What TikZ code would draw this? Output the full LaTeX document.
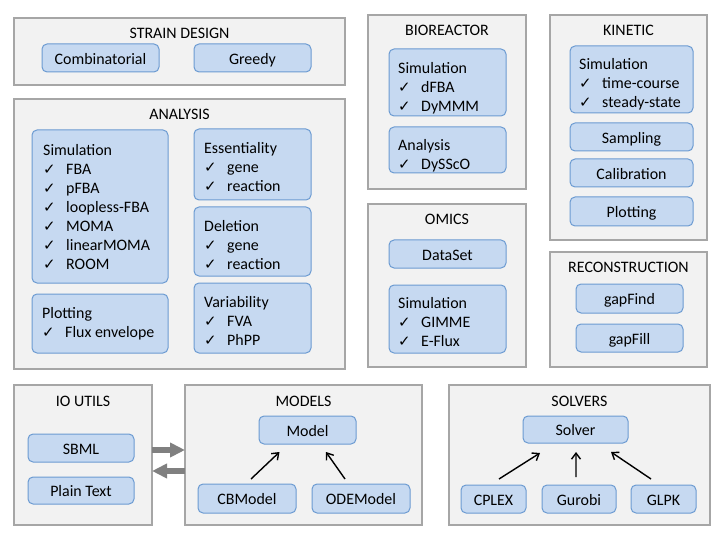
\documentclass[tikz,border=0pt]{standalone}
\usepackage{fontspec}
\setmainfont{Carlito}
\newfontfamily\ckfont{DejaVu Sans}
\usetikzlibrary{arrows.meta,calc}
\definecolor{outfill}{HTML}{F2F2F2}
\definecolor{outdraw}{HTML}{A6A6A6}
\definecolor{infill}{HTML}{C6D9F1}
\definecolor{indraw}{HTML}{6C9BD2}
\definecolor{garrow}{HTML}{808080}
\newcommand{\fs}{\fontsize{16}{19}\selectfont}
\newcommand{\ck}[1]{\makebox[23bp][l]{{\ckfont\fontsize{15}{15}\selectfont ✓}}#1}
\tikzset{
 outbox/.style={draw=outdraw, fill=outfill, line width=1.3bp, inner sep=0pt, outer sep=0pt, anchor=north west},
 inbox/.style={draw=indraw, fill=infill, line width=1bp, rounded corners=5bp, inner sep=0pt, outer sep=0pt, font=\fs, text height=12.5bp, text depth=0bp},
 ttl/.style={font=\fs, anchor=base, inner sep=0pt},
 txt/.style={font=\fs, anchor=base west, inner sep=0pt},
 dep/.style={-{Straight Barb[length=6bp,width=9bp]}, line width=1.4bp, black},
 gar/.style={-{Triangle[length=15bp,width=14bp]}, line width=5.5bp, garrow},
}
\newcommand{\obox}[6]{%
 \node[outbox, minimum width={(#4-#2)*1bp}, minimum height={(#5-#3)*1bp}] (#1) at (#2,#3) {};
 \node[ttl] (#1-t) at ({(#2+#4)/2},{#3+21}) {#6};}
\newcommand{\ibox}[6]{%
 \node[inbox, minimum width={(#4-#2)*1bp}, minimum height={(#5-#3)*1bp}] (#1) at ({(#2+#4)/2},{(#3+#5)/2}) {#6};}
\newcommand{\lst}[4]{%
 \foreach \t [count=\i] in {#4} {\node[txt] (#1-\i) at (#2,{#3+1.5+19*(\i-1)}) {\t};}}
\begin{document}
\begin{tikzpicture}[x=1bp,y=-1bp]
\useasboundingbox (0,0) rectangle (720,540);
% strain design
\obox{sd}{14}{18}{345}{85}{STRAIN DESIGN}
\ibox{comb}{42}{44}{159}{72}{Combinatorial}
\ibox{greedy}{194}{44}{311}{72}{Greedy}
% analysis
\obox{an}{14}{99}{345}{369}{ANALYSIS}
\ibox{ansim}{32}{130}{168}{283}{}
\lst{ansimt}{43}{154}{Simulation,\ck{FBA},\ck{pFBA},\ck{loopless-FBA},\ck{MOMA},\ck{linearMOMA},\ck{ROOM}}
\ibox{ess}{194}{129}{311}{200}{}
\lst{esst}{204}{152}{Essentiality,\ck{gene},\ck{reaction}}
\ibox{del}{194}{207}{311}{276}{}
\lst{delt}{204}{230}{Deletion,\ck{gene},\ck{reaction}}
\ibox{plot}{32}{294}{168}{353}{}
\lst{plott}{42}{317}{Plotting,\ck{Flux envelope}}
\ibox{var}{194}{283}{311}{353}{}
\lst{vart}{204}{306}{Variability,\ck{FVA},\ck{PhPP}}
% bioreactor
\obox{bio}{368}{15}{526}{189}{BIOREACTOR}
\ibox{biosim}{389}{49}{506}{116}{}
\lst{biosimt}{398}{72}{Simulation,\ck{dFBA},\ck{DyMMM}}
\ibox{bioan}{389}{127}{506}{173}{}
\lst{bioant}{398}{149}{Analysis,\ck{DySScO}}
% omics
\obox{om}{368}{204}{526}{367}{OMICS}
\ibox{ds}{389}{240}{506}{268}{DataSet}
\ibox{omsim}{389}{285}{506}{353}{}
\lst{omsimt}{398}{307}{Simulation,\ck{GIMME},\ck{E-Flux}}
% kinetic
\obox{kin}{550}{15}{707}{240}{KINETIC}
\ibox{kinsim}{570}{46}{693}{113}{}
\lst{kinsimt}{579}{68}{Simulation,\ck{time-course},\ck{steady-state}}
\ibox{samp}{570}{123}{693}{151}{Sampling}
\ibox{cal}{570}{159}{693}{187}{Calibration}
\ibox{kplot}{570}{197}{693}{226}{Plotting}
% reconstruction
\obox{rec}{550}{252}{707}{367}{RECONSTRUCTION}
\ibox{gfind}{576}{284}{683}{313}{gapFind}
\ibox{gfill}{576}{324}{683}{352}{gapFill}
% io utils
\obox{io}{14}{385}{152}{525}{IO UTILS}
\ibox{sbml}{28}{434}{134}{462}{SBML}
\ibox{pt}{28}{477}{134}{504}{Plain Text}
% models
\obox{mod}{185}{385}{422}{525}{MODELS}
\ibox{model}{259}{416}{356}{444}{Model}
\ibox{cbm}{198}{484}{296}{513}{CBModel}
\ibox{odem}{312}{484}{410}{513}{ODEModel}
% solvers
\obox{sol}{449}{385}{710}{525}{SOLVERS}
\ibox{solver}{523}{416}{628}{443}{Solver}
\ibox{cplex}{461}{485}{526}{513}{CPLEX}
\ibox{gurobi}{542}{485}{616}{513}{Gurobi}
\ibox{glpk}{631}{485}{696}{513}{GLPK}
% connectors
\draw[dep] ([shift={(4,-5)}]cbm.north) -- ([shift={(-28,8)}]model.south);
\draw[dep] ([shift={(-16,-5)}]odem.north) -- ([shift={(18.5,8)}]model.south);
\draw[dep] ([shift={(5.5,-6)}]cplex.north) -- ([shift={(-35.5,10)}]solver.south);
\draw[dep] ([shift={(-3,-8)}]gurobi.north) -- ([shift={(0.5,9)}]solver.south);
\draw[dep] ([shift={(-12.5,-6)}]glpk.north) -- ([shift={(35.5,9)}]solver.south);
\draw[gar] ([shift={(0,-5)}]io.east) -- ([shift={(0,-5)}]mod.west);
\draw[gar] ([shift={(0,16)}]mod.west) -- ([shift={(0,16)}]io.east);
\end{tikzpicture}
\end{document}
